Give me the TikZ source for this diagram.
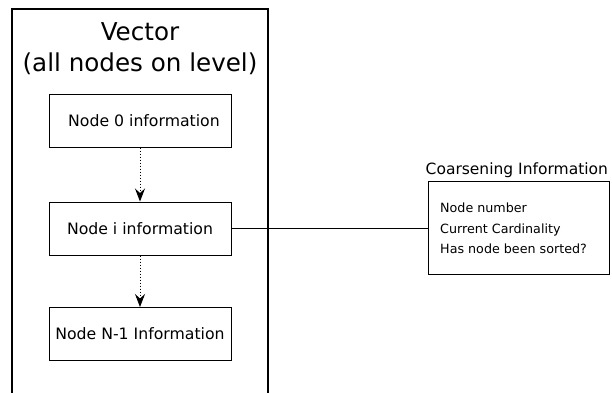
\documentclass[tikz,border=0pt]{standalone}
\usepackage{fontspec}
\setmainfont{DejaVu Sans}
\usetikzlibrary{arrows.meta}
\begin{document}
\begin{tikzpicture}[x=1pt,y=-1pt,
  infobox/.style={draw,line width=1pt,minimum width=182pt,minimum height=53pt,inner sep=0pt,
    font=\fontsize{15.7}{19}\selectfont},
  listtext/.style={anchor=base west,inner sep=0pt,font=\fontsize{12.7}{15}\selectfont},
  dotarrow/.style={line width=0.9pt,dash pattern=on 1pt off 2pt,
    -{Stealth[length=13pt,width=10pt,inset=4.5pt]}}]
\useasboundingbox (0,0) rectangle (612,392);

% container for the level vector (open at the bottom)
\draw[line width=2pt] (12,393) -- (12,9) -- (268,9) -- (268,393);
\node[anchor=north,inner sep=0pt,align=center,
  font=\fontsize{24.6}{31}\selectfont] (title) at (140,22.7)
  {Vector\\(all nodes on level)};

% per-node information records
\node[infobox] (n0) at (140,120.5) {\hspace{8pt}Node 0 information};
\node[infobox] (ni) at (140,228.5) {Node i information};
\node[infobox] (nl) at (140,334) {Node N-1 Information};

\draw[dotarrow] (n0.south) -- (ni.north);
\draw[dotarrow] (ni.south) -- (nl.north);

% coarsening information record
\node[draw,line width=1pt,minimum width=181pt,minimum height=92.5pt,inner sep=0pt]
  (coarse) at (518.5,227.75) {};
\node[anchor=base west,inner sep=0pt,font=\fontsize{15.5}{19}\selectfont]
  (ctitle) at (425.5,174.3) {Coarsening Information};
\node[listtext] (l1) at (440,212) {Node number};
\node[listtext] (l2) at (440,233) {Current Cardinality};
\node[listtext] (l3) at (440,253) {Has node been sorted?};

\draw[line width=1pt] (ni.east) -- (ni.east -| coarse.west);
\end{tikzpicture}
\end{document}
